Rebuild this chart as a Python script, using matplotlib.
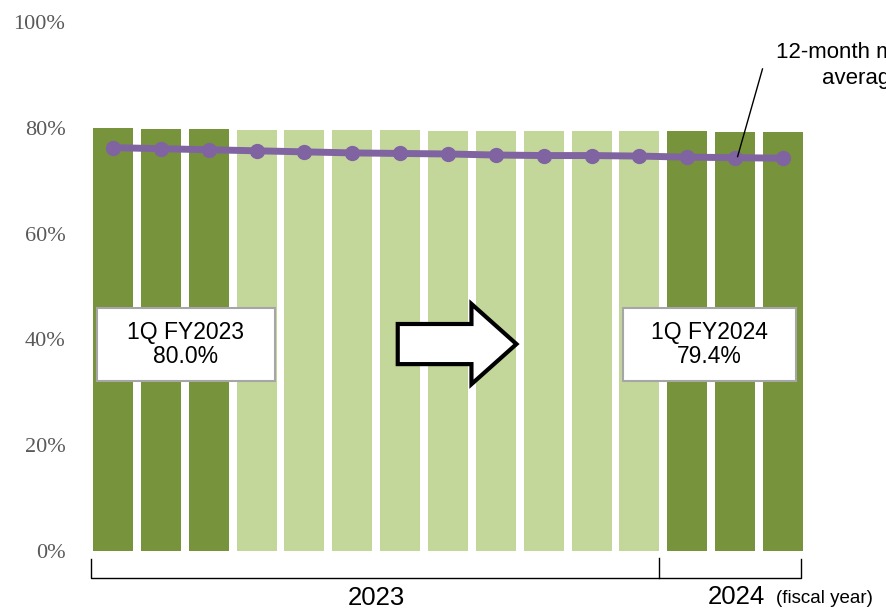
import matplotlib
matplotlib.use("Agg")
import matplotlib.pyplot as plt
from matplotlib.patches import Rectangle, FancyArrow

# ---- data ----
months = list(range(15))
bar_values = [80.1, 79.9, 79.8, 79.7, 79.7, 79.6, 79.6, 79.5, 79.5, 79.5, 79.4, 79.4, 79.4, 79.3, 79.2]
bar_is_q1 = [True, True, True, False, False, False, False, False, False, False, False, False, True, True, True]
moving_avg = [76.3, 76.1, 75.9, 75.7, 75.5, 75.3, 75.2, 75.1, 74.9, 74.8, 74.8, 74.7, 74.5, 74.4, 74.3]
yticks = [0, 20, 40, 60, 80, 100]
ytick_labels = ["0%", "20%", "40%", "60%", "80%", "100%"]
box_texts = ["1Q FY2023\n80.0%", "1Q FY2024\n79.4%"]
year_labels = ["2023", "2024"]

dark_green = "#77933C"
light_green = "#C4D79B"
purple = "#8064A2"

sans = ["Liberation Sans", "DejaVu Sans"]
serif = ["Liberation Serif", "DejaVu Serif"]

W, H = 886, 609
fig = plt.figure(figsize=(W / 100, H / 100), dpi=100)
ax = fig.add_axes([89 / W, 1 - 550.5 / H, (807 - 89) / W, (550.5 - 22.5) / H])

colors = [dark_green if q else light_green for q in bar_is_q1]
ax.bar(months, bar_values, width=0.835, color=colors, zorder=1)
ax.plot(months, moving_avg, color=purple, lw=5, marker="o", ms=10, zorder=3)

ax.set_xlim(-0.5, 14.5)
ax.set_ylim(0, 100)
ax.set_yticks(yticks)
ax.set_yticklabels(ytick_labels, fontfamily=serif, fontsize=16, color="#595959")
ax.tick_params(axis="y", length=0, pad=17)
ax.set_xticks([])
for s in ax.spines.values():
    s.set_visible(False)

# text boxes
boxes = [(-0.334, 3.382), (10.65, 14.26)]
for (x0, x1), txt in zip(boxes, box_texts):
    ax.add_patch(Rectangle((x0, 32.1), x1 - x0, 13.8, facecolor="white",
                           edgecolor="#A6A6A6", lw=1.5, zorder=4))
    ax.text((x0 + x1) / 2, 39.0, txt, ha="center", va="center", fontsize=16.5,
            fontfamily=sans, linespacing=1.1, zorder=5)

# block arrow
ax.add_patch(FancyArrow(5.95, 39.1, 2.48, 0, width=7.6, head_width=15.2,
                        head_length=0.94, length_includes_head=True,
                        facecolor="white", edgecolor="black", lw=3, zorder=5))

# moving average annotation
ax.plot([13.05, 13.57], [74.6, 91.2], color="black", lw=1, zorder=4, clip_on=False)
ax.text(13.86, 91.9, "12-month moving\naverage", ha="left", va="center",
        multialignment="center", fontsize=16, fontfamily=sans, linespacing=1.28,
        clip_on=False)

# bracket under x axis
trans = ax.get_xaxis_transform()
yb, yt = -0.052, -0.017
left, mid, right = -0.46, 11.41, 14.37
ax.plot([left, left, right, right], [yt, yb, yb, yt], color="black", lw=1,
        transform=trans, clip_on=False)
ax.plot([mid, mid], [yb, yt + 0.002], color="black", lw=1, transform=trans, clip_on=False)

ax.text(5.5, -0.09, year_labels[0], transform=trans, ha="center", va="center",
        fontsize=18.5, fontfamily=sans)
ax.text(12.43, -0.088, year_labels[1], transform=trans, ha="left", va="center",
        fontsize=18.5, fontfamily=sans)
ax.text(13.85, -0.091, "(fiscal year)", transform=trans, ha="left", va="center",
        fontsize=13.5, fontfamily=sans)

fig.savefig("out.png", dpi=100)
